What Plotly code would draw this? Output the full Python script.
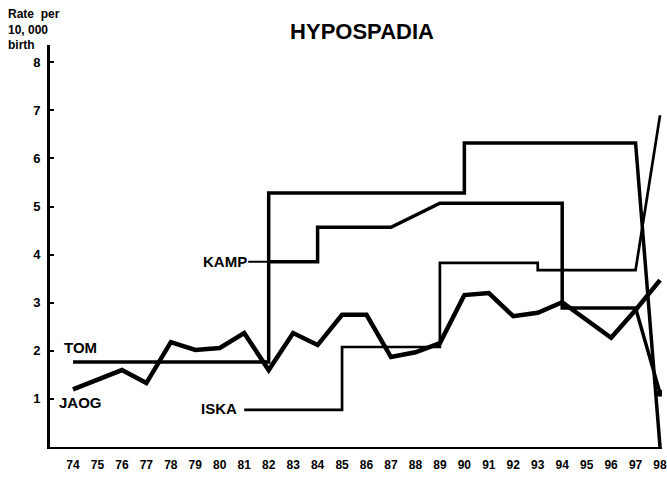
import plotly.graph_objects as go

# ---- data ----
years = list(range(74, 99))
tick_labels = [str(y) for y in years]

jaog_vals = [1.2, 1.4, 1.6, 1.33, 2.18, 2.02, 2.06, 2.37, 1.6, 2.37, 2.12, 2.75, 2.75,
             1.87, 1.97, 2.16, 3.16, 3.2, 2.72, 2.79, 3.01, 2.64, 2.27, 2.85, 3.47]

tom_years = [74, 82, 82, 90, 90, 97, 98]
tom_vals = [1.77, 1.77, 5.28, 5.28, 6.32, 6.32, 0.0]

kamp_years = [82, 84, 84, 87, 89, 94, 94, 97, 98]
kamp_vals = [3.85, 3.85, 4.57, 4.57, 5.07, 5.07, 2.89, 2.89, 1.12]

iska_years = [81, 85, 85, 89, 89, 93, 93, 97, 98]
iska_vals = [0.77, 0.77, 2.08, 2.08, 3.83, 3.83, 3.68, 3.68, 6.9]

y_ticks = [1, 2, 3, 4, 5, 6, 7, 8]

FONT = "Liberation Sans, Arial, sans-serif"

W, H = 667, 477

fig = go.Figure()
fig.add_trace(go.Scatter(x=tom_years, y=tom_vals, mode="lines",
                         line=dict(color="black", width=3.5), name="TOM"))
fig.add_trace(go.Scatter(x=kamp_years, y=kamp_vals, mode="lines",
                         line=dict(color="black", width=3.5), name="KAMP"))
fig.add_trace(go.Scatter(x=kamp_years[-1:], y=kamp_vals[-1:], mode="markers",
                         marker=dict(color="black", size=7), name="KAMP end"))
fig.add_trace(go.Scatter(x=iska_years, y=iska_vals, mode="lines",
                         line=dict(color="black", width=2.7), name="ISKA"))
fig.add_trace(go.Scatter(x=years, y=jaog_vals, mode="lines",
                         line=dict(color="black", width=4.5), name="JAOG"))

lab_font = dict(family=FONT, size=15, color="black")
# series labels
fig.add_annotation(x=74.29, y=2.06, text="<b>TOM</b>", showarrow=False, font=lab_font)
fig.add_annotation(x=74.29, y=0.92, text="<b>JAOG</b>", showarrow=False, font=lab_font)
fig.add_annotation(x=81.0, y=0.8, text="<b>ISKA</b>", showarrow=False, font=lab_font,
                   xanchor="right", xshift=-5)
fig.add_annotation(x=82, y=3.85, text="<b>KAMP</b>", showarrow=True, font=lab_font,
                   ax=-44, ay=0, arrowhead=0, arrowwidth=2, arrowcolor="black",
                   standoff=0)

# y-axis title (three lines)
ytitle_font = dict(family=FONT, size=12, color="black")
for txt, ypix in [("Rate  per", 14), ("10, 000", 30), ("birth", 45)]:
    fig.add_annotation(xref="paper", yref="paper", x=(6 - 50) / 612, y=(447 - ypix) / 402,
                       text=f"<b>{txt}</b>", showarrow=False, font=ytitle_font,
                       xanchor="left", yanchor="middle")

fig.update_layout(
    width=W, height=H,
    margin=dict(l=50, r=5, t=45, b=30, autoexpand=False),
    paper_bgcolor="white", plot_bgcolor="white",
    showlegend=False,
    hovermode=False,
    title=dict(text="<b>HYPOSPADIA</b>", x=362 / W, xanchor="center",
               y=1 - 31 / H, yanchor="middle",
               font=dict(family=FONT, size=22, color="black")),
    xaxis=dict(range=[73.06, 98.08], tickmode="array", tickvals=years,
               ticktext=[f"<b>{t}</b>" for t in tick_labels],
               showgrid=False, zeroline=False, showline=True, linecolor="black",
               linewidth=2, ticks="", ticklabelstandoff=6,
               ticklabeloverflow="allow", automargin=False,
               tickfont=dict(family=FONT, size=12, color="black")),
    yaxis=dict(range=[0, 8.36], tickmode="array", tickvals=y_ticks,
               ticktext=[f"<b>{t}</b>" for t in y_ticks],
               showgrid=False, zeroline=False, showline=True, linecolor="black",
               linewidth=3, ticks="inside", ticklen=4, tickwidth=2, tickcolor="black",
               ticklabelstandoff=4, automargin=False,
               tickfont=dict(family=FONT, size=13, color="black")),
)

fig.write_html("out.html", config={"displayModeBar": False},
               post_script="document.body.style.margin='0';document.body.style.overflow='hidden';")
